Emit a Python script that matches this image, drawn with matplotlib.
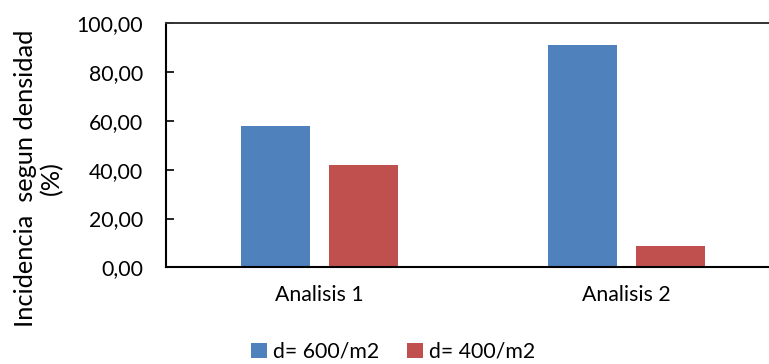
import matplotlib
matplotlib.use("Agg")
import matplotlib.pyplot as plt
import numpy as np
from matplotlib.ticker import FuncFormatter

categories = ["Analisis 1", "Analisis 2"]
series_names = ["d= 600/m2", "d= 400/m2"]
d600 = [57.9, 91.1]
d400 = [41.8, 8.8]
colors = ["#4F81BD", "#C0504D"]

plt.rcParams['font.family'] = ['Lato', 'DejaVu Sans']

fig = plt.figure(figsize=(7.69, 3.64), dpi=100)
ax = fig.add_axes([166/769, (364-267.3)/364, 1 - 166/769, (267.3-23.3)/364])

x = np.arange(len(categories))
w = 0.225
off = 0.1426
ax.bar(x - off, d600, width=w, color=colors[0], label=series_names[0])
ax.bar(x + off, d400, width=w, color=colors[1], label=series_names[1])

ax.set_xlim(-0.5, 1.465)
ax.set_ylim(0, 100)
ax.set_yticks(np.arange(0, 101, 20))
ax.yaxis.set_major_formatter(FuncFormatter(lambda v, p: f"{v:.2f}".replace(".", ",")))
ax.set_xticks(x)
ax.set_xticklabels(categories)
ax.tick_params(axis='y', direction='in', length=6, width=1.2, labelsize=15.3, pad=16.5)
ax.tick_params(axis='x', length=0, labelsize=15.3, pad=13)
ax.spines['right'].set_visible(False)
for s in ['left', 'bottom']:
    ax.spines[s].set_linewidth(1.5)
ax.spines['top'].set_linewidth(1.4)
ax.spines['top'].set_color('#333333')

fig.text(39/769, 1 - 178/364, "Incidencia  segun densidad\n(%)", rotation=90,
         ha='center', va='center', multialignment='center', fontsize=18.3,
         linespacing=1.15)

fig.legend(loc='center', bbox_to_anchor=(393/769, 1 - 352/364), ncol=2, frameon=False,
           fontsize=15.3, handlelength=0.75, handleheight=0.75, handletextpad=0.3,
           columnspacing=1.3)

fig.savefig("out.png", dpi=100)
